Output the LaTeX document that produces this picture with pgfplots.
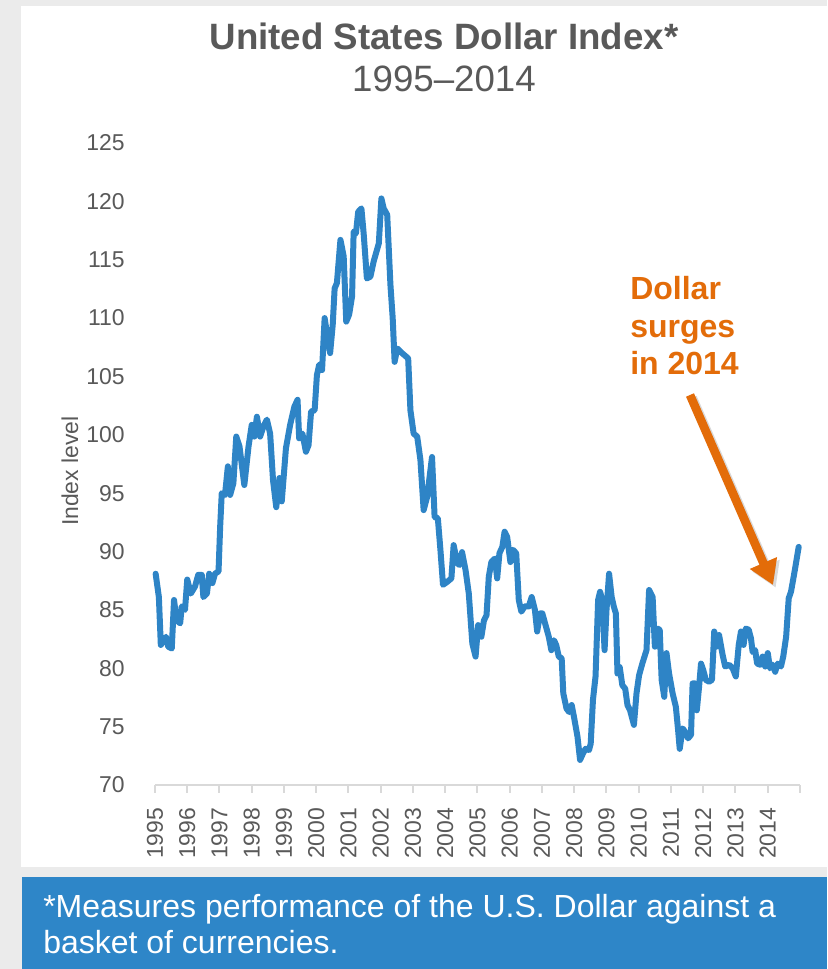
\documentclass[border=0pt]{standalone}
\usepackage{fontspec}
\setmainfont{Liberation Sans}
\usepackage{pgfplots}
\pgfplotsset{compat=1.18}
\usetikzlibrary{arrows.meta}
\definecolor{bggray}{HTML}{EBEBEB}
\definecolor{lineblue}{HTML}{2E84C6}
\definecolor{boxblue}{HTML}{2E86C8}
\definecolor{txtgray}{HTML}{595959}
\definecolor{axisgray}{HTML}{D9D9D9}
\definecolor{orangeann}{HTML}{E36C09}
\begin{document}
\begin{tikzpicture}
\useasboundingbox (0,0) rectangle (620.25pt,726.75pt);
\fill[bggray] (0,0) rectangle (620.25pt,726.75pt);
\fill[white] (15.75pt,76.5pt) rectangle (620.25pt,722.25pt);
\fill[boxblue] (16.5pt,0pt) rectangle (620.25pt,69pt);
\node[anchor=base, text=txtgray, inner sep=0pt] at (333pt,689.25pt) {\fontsize{27.5}{33}\selectfont\bfseries United States Dollar Index*};
\node[anchor=base, text=txtgray, inner sep=0pt] at (333pt,657.75pt) {\fontsize{27.5}{33}\selectfont 1995–2014};
\begin{axis}[
  at={(116.25pt,138pt)}, anchor=south west,
  scale only axis, width=483.75pt, height=481.5pt,
  xmin=1995, xmax=2015, ymin=70, ymax=125,
  xtick={1995,...,2014},
  extra x ticks={2015}, extra x tick labels={},
  ytick={70,75,...,125},
  /pgf/number format/1000 sep={},
  /pgf/number format/assume math mode=true,
  tick label style={font=\fontsize{17.2}{20}\selectfont, text=txtgray},
  xticklabel style={rotate=90, anchor=east, inner sep=0pt},
  xticklabel shift=11pt,
  yticklabel style={anchor=east, inner sep=0pt},
  yticklabel shift=16.5pt,
  separate axis lines,
  axis x line*=bottom, axis y line*=left,
  x axis line style={draw=axisgray, line width=1.5pt},
  y axis line style={draw=none},
  tick align=outside,
  major tick length=6pt,
  xtick style={draw=axisgray, line width=1.5pt},
  ytick style={draw=none},
  ylabel={Index level},
  ylabel style={at={(axis description cs:-0.1318,0.489)}, anchor=center, rotate=0, font=\fontsize{17.2}{20}\selectfont, text=txtgray},
  clip=false,
]
\addplot[lineblue, line width=4.5pt, line join=round, line cap=round] table {
x y
1995.02 88.1
1995.12 86.1
1995.18 82.0
1995.34 82.7
1995.41 81.85
1995.52 81.7
1995.59 85.85
1995.67 84.1
1995.78 83.85
1995.83 85.3
1995.93 85.0
1996.00 87.6
1996.11 86.4
1996.24 87.0
1996.34 88.0
1996.45 88.0
1996.50 86.1
1996.61 86.4
1996.68 88.1
1996.78 87.3
1996.86 88.1
1996.97 88.3
1997.02 92.1
1997.07 95.0
1997.17 94.85
1997.26 97.3
1997.33 94.85
1997.43 95.85
1997.52 99.85
1997.62 99.0
1997.77 95.7
1997.90 99.0
1998.00 100.85
1998.08 99.85
1998.16 101.55
1998.26 99.85
1998.36 100.7
1998.47 101.3
1998.57 100.1
1998.66 96.1
1998.76 93.8
1998.86 96.3
1998.93 94.3
1999.06 98.85
1999.19 100.85
1999.32 102.4
1999.42 103.0
1999.47 99.7
1999.57 100.1
1999.68 98.55
1999.76 99.1
1999.84 102.0
1999.95 102.1
2000.02 105.1
2000.09 106.0
2000.18 105.55
2000.26 110.0
2000.34 108.55
2000.43 107.0
2000.51 109.4
2000.57 112.55
2000.64 113.0
2000.75 116.7
2000.85 115.3
2000.93 109.7
2001.02 110.3
2001.11 111.85
2001.16 117.4
2001.23 117.25
2001.30 119.1
2001.40 119.4
2001.47 117.25
2001.57 113.4
2001.68 113.55
2001.78 114.85
2001.94 116.4
2002.02 120.25
2002.09 119.4
2002.20 118.85
2002.30 112.85
2002.37 110.0
2002.43 106.25
2002.51 107.4
2002.66 107.0
2002.85 106.55
2002.92 102.1
2003.02 100.1
2003.13 99.85
2003.23 97.85
2003.33 93.55
2003.44 94.7
2003.59 98.1
2003.67 92.95
2003.77 92.85
2003.85 90.15
2003.93 87.15
2004.06 87.4
2004.19 87.7
2004.26 90.55
2004.37 89.0
2004.44 88.85
2004.52 89.95
2004.63 88.4
2004.73 86.4
2004.84 82.1
2004.94 81.0
2005.02 83.7
2005.12 82.7
2005.20 84.1
2005.28 84.55
2005.35 87.85
2005.43 89.1
2005.54 89.4
2005.61 87.7
2005.68 89.85
2005.77 90.4
2005.84 91.7
2005.92 91.25
2006.02 89.1
2006.10 90.15
2006.20 89.85
2006.28 85.85
2006.36 84.85
2006.46 85.3
2006.59 85.3
2006.68 86.1
2006.78 85.0
2006.85 83.15
2006.94 84.7
2007.01 84.7
2007.11 83.7
2007.21 82.7
2007.29 81.55
2007.37 82.4
2007.44 82.0
2007.52 81.0
2007.61 80.85
2007.66 77.85
2007.76 76.55
2007.84 76.25
2007.92 76.85
2007.99 75.85
2008.10 74.15
2008.18 72.15
2008.27 72.7
2008.35 73.1
2008.46 73.0
2008.51 73.55
2008.58 77.3
2008.66 79.3
2008.74 85.85
2008.80 86.55
2008.87 85.85
2008.94 81.55
2009.00 85.0
2009.08 88.1
2009.16 86.1
2009.23 85.25
2009.29 84.7
2009.34 79.55
2009.41 80.1
2009.49 78.55
2009.58 78.25
2009.65 76.85
2009.73 76.4
2009.85 75.15
2009.93 77.85
2010.01 79.4
2010.11 80.4
2010.24 81.55
2010.32 86.7
2010.43 86.1
2010.50 81.85
2010.58 83.4
2010.65 83.3
2010.71 79.0
2010.79 77.55
2010.86 81.3
2010.94 79.55
2011.05 77.85
2011.15 76.7
2011.22 74.7
2011.27 73.1
2011.36 74.85
2011.44 74.55
2011.53 74.0
2011.62 74.3
2011.67 78.7
2011.75 78.7
2011.80 76.4
2011.87 78.4
2011.93 80.4
2012.00 79.85
2012.08 79.0
2012.18 78.85
2012.27 79.0
2012.34 83.15
2012.41 81.85
2012.49 82.85
2012.60 81.15
2012.68 80.15
2012.80 80.3
2012.91 80.0
2013.01 79.3
2013.10 82.0
2013.17 83.15
2013.25 82.0
2013.32 83.4
2013.41 83.3
2013.48 82.55
2013.53 81.4
2013.61 81.55
2013.67 80.4
2013.77 80.3
2013.84 81.0
2013.92 80.15
2014.00 81.3
2014.07 80.0
2014.15 80.3
2014.23 79.7
2014.31 80.4
2014.41 80.15
2014.48 81.0
2014.57 82.7
2014.65 86.0
2014.72 86.55
2014.82 88.1
2014.96 90.4
};
\end{axis}
\node[anchor=base west, text=orangeann, inner sep=0pt] at (472.5pt,501.75pt) {\fontsize{24}{28}\selectfont\bfseries Dollar};
\node[anchor=base west, text=orangeann, inner sep=0pt] at (472.5pt,473.25pt) {\fontsize{24}{28}\selectfont\bfseries surges};
\node[anchor=base west, text=orangeann, inner sep=0pt] at (472.5pt,445.5pt) {\fontsize{24}{28}\selectfont\bfseries in 2014};
\draw[black, opacity=0.15, line width=6.5pt, -{Triangle[width=21pt,length=18pt]}] (519.5pt,428.5pt) -- (581.75pt,286pt);
\draw[orangeann, line width=6.5pt, -{Triangle[width=21pt,length=18pt]}] (517.5pt,430.5pt) -- (579.75pt,288pt);
\node[anchor=base west, text=white, inner sep=0pt] at (32.25pt,38.25pt) {\fontsize{24}{28}\selectfont *Measures performance of the U.S. Dollar against a};
\node[anchor=base west, text=white, inner sep=0pt] at (32.25pt,12pt) {\fontsize{24}{28}\selectfont basket of currencies.};
\end{tikzpicture}
\end{document}
